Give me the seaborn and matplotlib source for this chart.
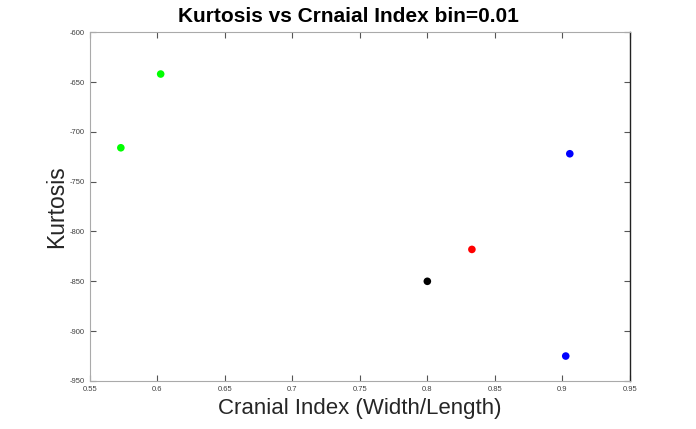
import matplotlib
matplotlib.use("Agg")
import matplotlib.pyplot as plt
import seaborn as sns
import pandas as pd

# values
cranial_index = [0.573, 0.6025, 0.800, 0.833, 0.9055, 0.9025]
kurtosis = [-716, -642, -850, -818, -722, -925]
group = ["g", "g", "k", "r", "b", "b"]
palette = {"g": "#00ff00", "k": "#000000", "r": "#ff0000", "b": "#0000ff"}

x_ticks = [0.55, 0.6, 0.65, 0.7, 0.75, 0.8, 0.85, 0.9, 0.95]
x_tick_labels = ["0.55", "0.6", "0.65", "0.7", "0.75", "0.8", "0.85", "0.9", "0.95"]
y_ticks = [-950, -900, -850, -800, -750, -700, -650, -600]

df = pd.DataFrame({"ci": cranial_index, "k": kurtosis, "grp": group})

sns.set_style("white")
plt.rcParams["font.family"] = ["Liberation Sans", "DejaVu Sans"]

fig = plt.figure(figsize=(6.96, 4.29), dpi=100)
ax = fig.add_axes([0.129, 0.112, 0.776, 0.813])

sns.scatterplot(data=df, x="ci", y="k", hue="grp", palette=palette,
                s=30, edgecolor="none", legend=False, ax=ax)

ax.set_xlim(0.55, 0.95)
ax.set_ylim(-950, -600)
ax.set_xticks(x_ticks)
ax.set_xticklabels(x_tick_labels)
ax.set_yticks(y_ticks)
ax.set_yticklabels([str(v) for v in y_ticks])
ax.tick_params(direction="in", length=4, width=0.8, labelsize=5.5,
               labelcolor="#404040", color="#555555",
               top=True, right=True, bottom=True, left=True)

for side in ["left", "bottom", "top"]:
    ax.spines[side].set_color("#aaaaaa")
    ax.spines[side].set_linewidth(0.8)
ax.spines["right"].set_color("#222222")
ax.spines["right"].set_linewidth(1.0)

fig.text(0.5, 0.962, "Kurtosis vs Crnaial Index bin=0.01", ha="center", va="center",
         fontsize=15, fontweight="bold", color="black")
ax.set_xlabel("Cranial Index (Width/Length)", fontsize=16, color="#262626", labelpad=4)
ax.set_ylabel("Kurtosis", fontsize=16.5, color="#262626", labelpad=1)

fig.savefig("out.png", dpi=100)
